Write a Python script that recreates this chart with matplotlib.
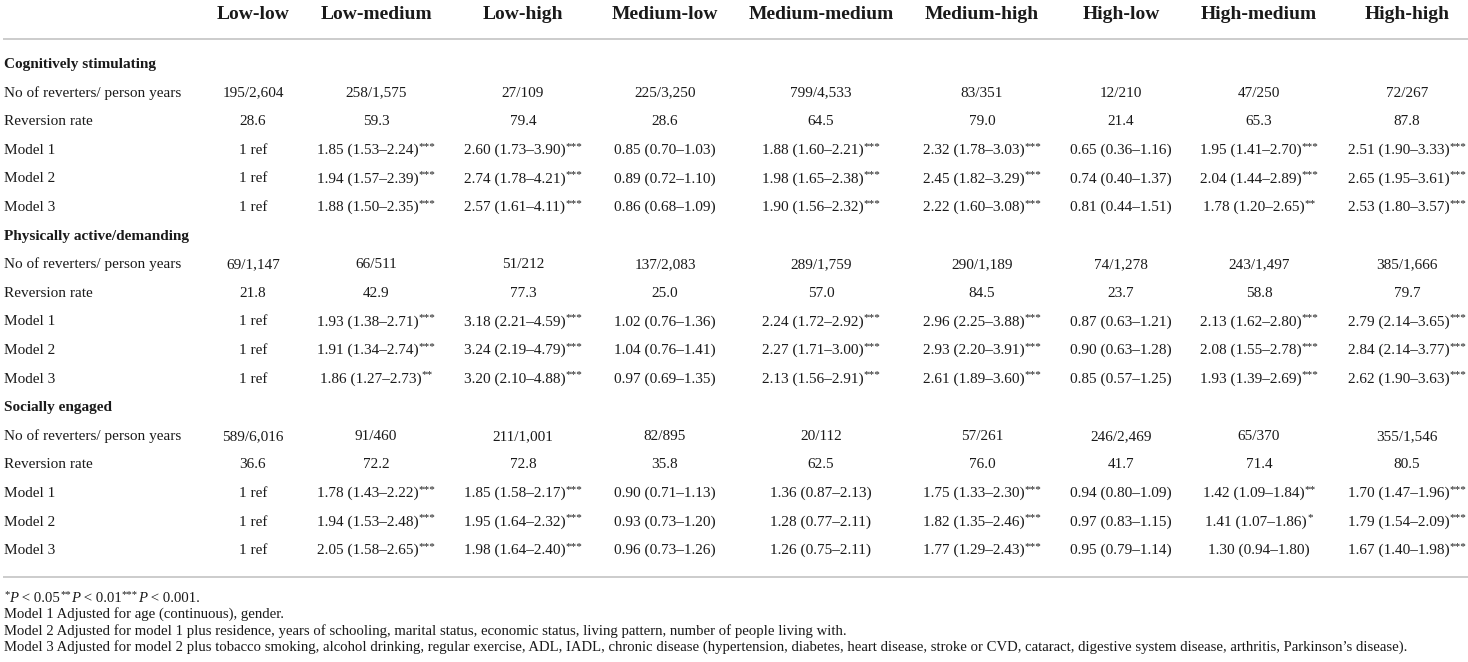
"""
Reversion to normal cognition by occupational complexity combinations:
rendered as a plain text table with matplotlib.
"""

import matplotlib
matplotlib.use("Agg")
import matplotlib.pyplot as plt

plt.rcParams["font.family"] = ["Liberation Serif", "DejaVu Serif"]

# --- table content ---
col_labels = ["Low-low", "Low-medium", "Low-high", "Medium-low", "Medium-medium",
              "Medium-high", "High-low", "High-medium", "High-high"]
row_labels = ["No of reverters/ person years", "Reversion rate",
              "Model 1", "Model 2", "Model 3"]

sections = ["Cognitively stimulating", "Physically active/demanding", "Socially engaged"]

cog_counts = ["195/2,604", "258/1,575", "27/109", "225/3,250", "799/4,533",
              "83/351", "12/210", "47/250", "72/267"]
cog_rates = ["28.6", "59.3", "79.4", "28.6", "64.5", "79.0", "21.4", "65.3", "87.8"]
cog_m1 = ["1 ref", "1.85 (1.53–2.24)***", "2.60 (1.73–3.90)***", "0.85 (0.70–1.03)",
          "1.88 (1.60–2.21)***", "2.32 (1.78–3.03)***", "0.65 (0.36–1.16)",
          "1.95 (1.41–2.70)***", "2.51 (1.90–3.33)***"]
cog_m2 = ["1 ref", "1.94 (1.57–2.39)***", "2.74 (1.78–4.21)***", "0.89 (0.72–1.10)",
          "1.98 (1.65–2.38)***", "2.45 (1.82–3.29)***", "0.74 (0.40–1.37)",
          "2.04 (1.44–2.89)***", "2.65 (1.95–3.61)***"]
cog_m3 = ["1 ref", "1.88 (1.50–2.35)***", "2.57 (1.61–4.11)***", "0.86 (0.68–1.09)",
          "1.90 (1.56–2.32)***", "2.22 (1.60–3.08)***", "0.81 (0.44–1.51)",
          "1.78 (1.20–2.65)**", "2.53 (1.80–3.57)***"]

phy_counts = ["69/1,147", "66/511", "51/212", "137/2,083", "289/1,759",
              "290/1,189", "74/1,278", "243/1,497", "385/1,666"]
phy_rates = ["21.8", "42.9", "77.3", "25.0", "57.0", "84.5", "23.7", "58.8", "79.7"]
phy_m1 = ["1 ref", "1.93 (1.38–2.71)***", "3.18 (2.21–4.59)***", "1.02 (0.76–1.36)",
          "2.24 (1.72–2.92)***", "2.96 (2.25–3.88)***", "0.87 (0.63–1.21)",
          "2.13 (1.62–2.80)***", "2.79 (2.14–3.65)***"]
phy_m2 = ["1 ref", "1.91 (1.34–2.74)***", "3.24 (2.19–4.79)***", "1.04 (0.76–1.41)",
          "2.27 (1.71–3.00)***", "2.93 (2.20–3.91)***", "0.90 (0.63–1.28)",
          "2.08 (1.55–2.78)***", "2.84 (2.14–3.77)***"]
phy_m3 = ["1 ref", "1.86 (1.27–2.73)**", "3.20 (2.10–4.88)***", "0.97 (0.69–1.35)",
          "2.13 (1.56–2.91)***", "2.61 (1.89–3.60)***", "0.85 (0.57–1.25)",
          "1.93 (1.39–2.69)***", "2.62 (1.90–3.63)***"]

soc_counts = ["589/6,016", "91/460", "211/1,001", "82/895", "20/112",
              "57/261", "246/2,469", "65/370", "355/1,546"]
soc_rates = ["36.6", "72.2", "72.8", "35.8", "62.5", "76.0", "41.7", "71.4", "80.5"]
soc_m1 = ["1 ref", "1.78 (1.43–2.22)***", "1.85 (1.58–2.17)***", "0.90 (0.71–1.13)",
          "1.36 (0.87–2.13)", "1.75 (1.33–2.30)***", "0.94 (0.80–1.09)",
          "1.42 (1.09–1.84)**", "1.70 (1.47–1.96)***"]
soc_m2 = ["1 ref", "1.94 (1.53–2.48)***", "1.95 (1.64–2.32)***", "0.93 (0.73–1.20)",
          "1.28 (0.77–2.11)", "1.82 (1.35–2.46)***", "0.97 (0.83–1.15)",
          "1.41 (1.07–1.86)*", "1.79 (1.54–2.09)***"]
soc_m3 = ["1 ref", "2.05 (1.58–2.65)***", "1.98 (1.64–2.40)***", "0.96 (0.73–1.26)",
          "1.26 (0.75–2.11)", "1.77 (1.29–2.43)***", "0.95 (0.79–1.14)",
          "1.30 (0.94–1.80)", "1.67 (1.40–1.98)***"]

footnotes = [
    "Model 1 Adjusted for age (continuous), gender.",
    "Model 2 Adjusted for model 1 plus residence, years of schooling, marital status, "
    "economic status, living pattern, number of people living with.",
    "Model 3 Adjusted for model 2 plus tobacco smoking, alcohol drinking, regular exercise, "
    "ADL, IADL, chronic disease (hypertension, diabetes, heart disease, stroke or CVD, "
    "cataract, digestive system disease, arthritis, Parkinson’s disease).",
]

section_rows = [
    [cog_counts, cog_rates, cog_m1, cog_m2, cog_m3],
    [phy_counts, phy_rates, phy_m1, phy_m2, phy_m3],
    [soc_counts, soc_rates, soc_m1, soc_m2, soc_m3],
]

# --- layout (pixels) ---
W, H = 1468, 662
col_x = [253, 376, 523, 665, 821, 982, 1121, 1259, 1407]
label_x = 4
header_y = 19
row0_y = 68
row_step = 28.6
foot0_y = 602
foot_step = 16.3
body_fs = 11
star_fs = 8
foot_fs = 10.65
text_color = "#1a1a1a"
rule_color = "#c4c4c4"

fig = plt.figure(figsize=(W / 100, H / 100), dpi=100)
ax = fig.add_axes([0, 0, 1, 1])
ax.set_xlim(0, W)
ax.set_ylim(H, 0)
ax.axis("off")
renderer = fig.canvas.get_renderer()


def text_width(t):
    return t.get_window_extent(renderer=renderer).width


def draw_cell(cx, y, s):
    """Centre a value with its significance stars drawn as superscript."""
    main = s.rstrip("*")
    stars = s[len(main):]
    t1 = ax.text(0, y, main, fontsize=body_fs, va="baseline", ha="left", color=text_color)
    w1 = text_width(t1)
    w2 = 0
    t2 = None
    if stars:
        t2 = ax.text(0, y - 5, stars, fontsize=star_fs, va="baseline", ha="left",
                     color=text_color)
        w2 = text_width(t2)
    x0 = cx - (w1 + w2) / 2
    t1.set_x(x0)
    if t2 is not None:
        t2.set_x(x0 + w1)


def draw_runs(x, y, runs):
    """Draw a line made of styled pieces one after another."""
    for s, kind in runs:
        if kind == "sup":
            t = ax.text(x, y - 5, s, fontsize=foot_fs * 0.72, va="baseline", ha="left",
                        color=text_color)
        elif kind == "it":
            t = ax.text(x, y, s, fontsize=foot_fs, style="italic", va="baseline",
                        ha="left", color=text_color)
        else:
            t = ax.text(x, y, s, fontsize=foot_fs, va="baseline", ha="left",
                        color=text_color)
        x += text_width(t)


# header
for cx, lab in zip(col_x, col_labels):
    ax.text(cx, header_y, lab, fontsize=14, fontweight="bold", ha="center",
            va="baseline", color=text_color)

ax.plot([3, W], [39, 39], color=rule_color, lw=1.2, solid_capstyle="butt")

# body
r = 0
for sec, rows in zip(sections, section_rows):
    y = row0_y + r * row_step
    ax.text(label_x, y, sec, fontsize=body_fs, fontweight="bold", ha="left",
            va="baseline", color=text_color)
    r += 1
    for lab, vals in zip(row_labels, rows):
        y = row0_y + r * row_step
        ax.text(label_x, y, lab, fontsize=body_fs, ha="left", va="baseline",
                color=text_color)
        for cx, v in zip(col_x, vals):
            draw_cell(cx, y, v)
        r += 1

ax.plot([3, W], [577, 577], color=rule_color, lw=1.2, solid_capstyle="butt")

# footnotes
draw_runs(label_x, foot0_y, [
    ("*", "sup"), ("P", "it"), (" < 0.05", "rm"),
    ("**", "sup"), ("P", "it"), (" < 0.01", "rm"),
    ("***", "sup"), ("P", "it"), (" < 0.001.", "rm"),
])
for i, line in enumerate(footnotes):
    ax.text(label_x, foot0_y + (i + 1) * foot_step, line, fontsize=foot_fs,
            ha="left", va="baseline", color=text_color)

fig.savefig("out.png", dpi=100)
